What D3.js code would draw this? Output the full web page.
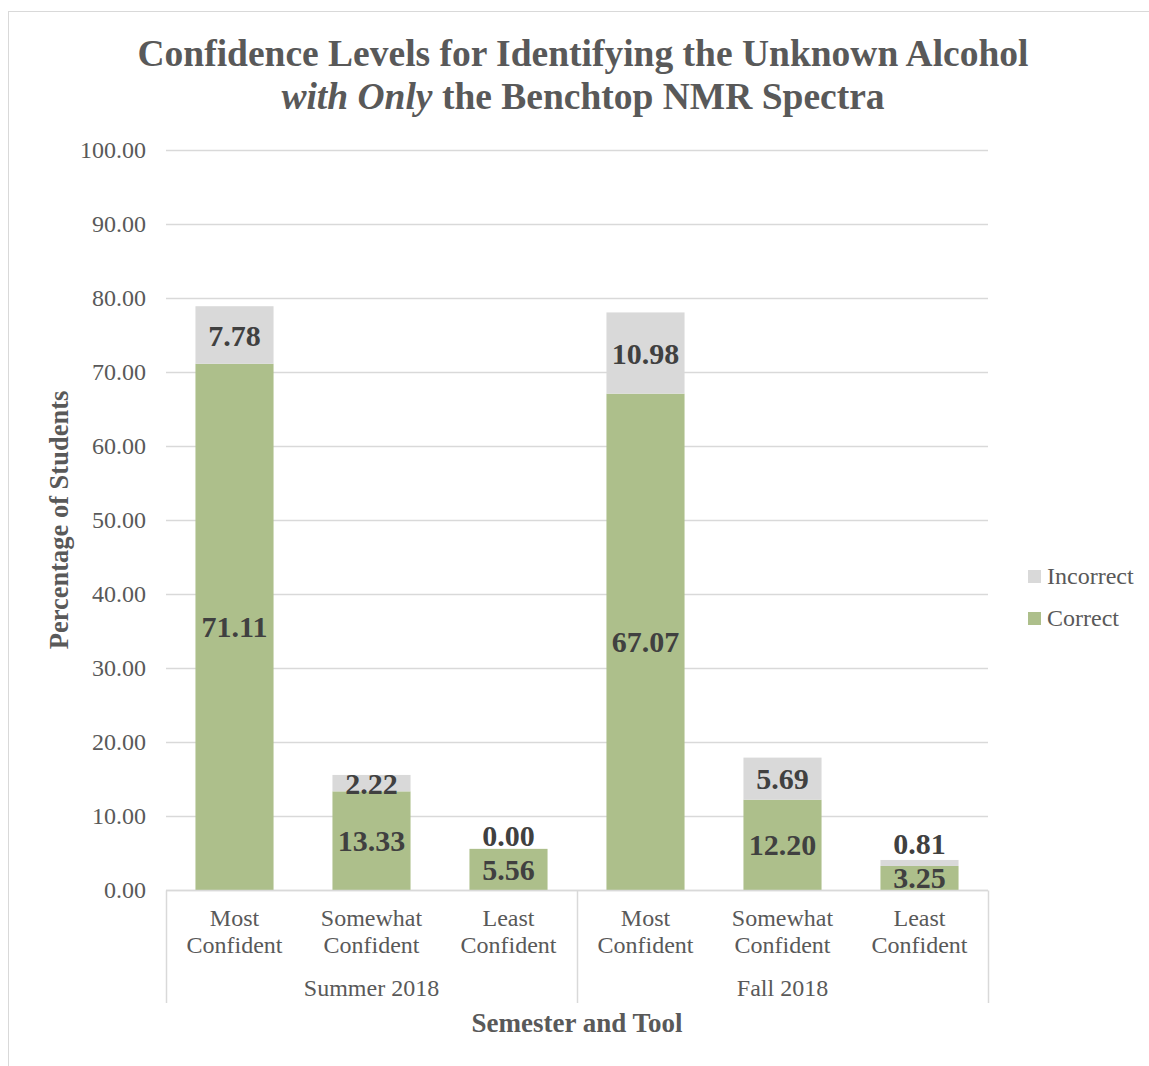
<!DOCTYPE html>
<html>
<head>
<meta charset="utf-8">
<script src="https://cdn.jsdelivr.net/npm/d3@7"></script>
<style>
  body { margin: 0; background: #fff; }
  svg { font-family: "Liberation Serif", "Times New Roman", serif; }
</style>
</head>
<body>
<div id="chart"></div>
<script>
var groups = ["Summer 2018", "Fall 2018"];
var levels = [["Most", "Confident"], ["Somewhat", "Confident"], ["Least", "Confident"]];
var correct   = [71.11, 13.33, 5.56, 67.07, 12.20, 3.25];
var incorrect = [7.78, 2.22, 0.00, 10.98, 5.69, 0.81];
var yTicks = [0, 10, 20, 30, 40, 50, 60, 70, 80, 90, 100];
var seriesNames = ["Incorrect", "Correct"];

var colors = { correct: "#adbf8b", incorrect: "#d9d9d9", grid: "#d9d9d9", text: "#595959", label: "#404040" };

var W = 1149, H = 1066;
var margin = { left: 166, right: 161, top: 150, bottom: 176 };

var svg = d3.select("#chart").append("svg")
  .attr("width", W)
  .attr("height", H);

// chart frame
svg.append("rect")
  .attr("x", 8.5).attr("y", 11.5)
  .attr("width", W + 10).attr("height", H + 10)
  .style("fill", "none")
  .style("stroke", colors.grid);

var cats = [];
groups.forEach(function(g, gi) {
  levels.forEach(function(l, li) {
    cats.push({ group: g, level: l, key: gi + "-" + li });
  });
});

var x = d3.scaleBand()
  .domain(cats.map(function(c) { return c.key; }))
  .range([margin.left, W - margin.right])
  .paddingInner(0.43)
  .paddingOuter(0.215);

var step = x.step();

var y = d3.scaleLinear()
  .domain([0, 100])
  .range([H - margin.bottom, margin.top]);

// gridlines
svg.append("g")
  .selectAll("line")
  .data(yTicks)
  .enter().append("line")
  .attr("x1", margin.left).attr("x2", W - margin.right)
  .attr("y1", function(d) { return Math.round(y(d)) + 0.5; })
  .attr("y2", function(d) { return Math.round(y(d)) + 0.5; })
  .style("stroke", colors.grid)
  .style("stroke-width", 1.5);

// y tick labels
svg.append("g")
  .selectAll("text")
  .data(yTicks)
  .enter().append("text")
  .attr("x", margin.left - 20)
  .attr("y", function(d) { return y(d); })
  .attr("dy", "0.35em")
  .style("text-anchor", "end")
  .style("font-size", "24px")
  .style("fill", colors.text)
  .text(function(d) { return d3.format(".2f")(d); });

// bars
var data = cats.map(function(c, i) {
  return { key: c.key, correct: correct[i], incorrect: incorrect[i] };
});

var bars = svg.append("g");

bars.selectAll("rect.correct")
  .data(data)
  .enter().append("rect")
  .attr("class", "correct")
  .attr("x", function(d) { return x(d.key); })
  .attr("width", x.bandwidth())
  .attr("y", function(d) { return y(d.correct); })
  .attr("height", function(d) { return y(0) - y(d.correct); })
  .style("fill", colors.correct);

bars.selectAll("rect.incorrect")
  .data(data)
  .enter().append("rect")
  .attr("class", "incorrect")
  .attr("x", function(d) { return x(d.key); })
  .attr("width", x.bandwidth())
  .attr("y", function(d) { return y(d.correct + d.incorrect); })
  .attr("height", function(d) { return y(d.correct) - y(d.correct + d.incorrect); })
  .style("fill", colors.incorrect);

// data labels (centered in segment, nudged up when they would collide)
function correctLabelY(d) { return y(d.correct / 2); }
function incorrectLabelY(d) {
  var c = y(d.correct + d.incorrect / 2);
  return Math.min(c, correctLabelY(d) - 34);
}

var labels = svg.append("g")
  .style("font-size", "30px")
  .style("font-weight", "bold")
  .style("fill", colors.label)
  .style("text-anchor", "middle");

labels.selectAll("text.correct")
  .data(data)
  .enter().append("text")
  .attr("x", function(d) { return x(d.key) + x.bandwidth() / 2; })
  .attr("y", correctLabelY)
  .attr("dy", "0.35em")
  .text(function(d) { return d3.format(".2f")(d.correct); });

labels.selectAll("text.incorrect")
  .data(data)
  .enter().append("text")
  .attr("x", function(d) { return x(d.key) + x.bandwidth() / 2; })
  .attr("y", incorrectLabelY)
  .attr("dy", "0.35em")
  .text(function(d) { return d3.format(".2f")(d.incorrect); });

// x axis line + group dividers
var axisY = Math.round(y(0)) + 0.5;
svg.append("line")
  .attr("x1", margin.left).attr("x2", W - margin.right)
  .attr("y1", axisY).attr("y2", axisY)
  .style("stroke", colors.grid)
  .style("stroke-width", 1.5);

var dividers = [0, 3, 6].map(function(i) {
  return margin.left + i * step;
});

svg.append("g")
  .selectAll("line")
  .data(dividers)
  .enter().append("line")
  .attr("x1", function(d) { return Math.round(d) + 0.5; })
  .attr("x2", function(d) { return Math.round(d) + 0.5; })
  .attr("y1", axisY)
  .attr("y2", H - 63)
  .style("stroke", colors.grid)
  .style("stroke-width", 1.5);

// category labels
var catLabels = svg.append("g")
  .style("font-size", "24px")
  .style("fill", colors.text)
  .style("text-anchor", "middle");

cats.forEach(function(c) {
  var t = catLabels.append("text")
    .attr("x", x(c.key) + x.bandwidth() / 2)
    .attr("y", 926);
  t.append("tspan").attr("x", x(c.key) + x.bandwidth() / 2).text(c.level[0]);
  t.append("tspan").attr("x", x(c.key) + x.bandwidth() / 2).attr("dy", 27).text(c.level[1]);
});

// group labels
svg.append("g")
  .selectAll("text")
  .data(groups)
  .enter().append("text")
  .attr("x", function(d, i) { return (dividers[i] + dividers[i + 1]) / 2; })
  .attr("y", 996)
  .style("font-size", "24px")
  .style("fill", colors.text)
  .style("text-anchor", "middle")
  .text(function(d) { return d; });

// axis titles
svg.append("text")
  .attr("x", (margin.left + W - margin.right) / 2)
  .attr("y", 1032)
  .style("font-size", "27px")
  .style("font-weight", "bold")
  .style("fill", colors.text)
  .style("text-anchor", "middle")
  .text("Semester and Tool");

svg.append("text")
  .attr("transform", "translate(68," + (H - margin.bottom + margin.top) / 2 + ") rotate(-90)")
  .style("font-size", "26.5px")
  .style("font-weight", "bold")
  .style("fill", colors.text)
  .style("text-anchor", "middle")
  .text("Percentage of Students");

// title
var title = svg.append("text")
  .attr("x", 583)
  .style("font-size", "37.5px")
  .style("font-weight", "bold")
  .style("fill", colors.text)
  .style("text-anchor", "middle");

title.append("tspan")
  .attr("x", 583).attr("y", 66)
  .text("Confidence Levels for Identifying the Unknown Alcohol");

var line2 = title.append("tspan").attr("x", 583).attr("y", 109);
line2.append("tspan").style("font-style", "italic").text("with Only");
line2.append("tspan").text(" the Benchtop NMR Spectra");

// legend
var legend = svg.append("g")
  .selectAll("g")
  .data(seriesNames)
  .enter().append("g")
  .attr("transform", function(d, i) { return "translate(1028," + (576 + i * 42) + ")"; });

legend.append("rect")
  .attr("x", 0).attr("y", -6)
  .attr("width", 13).attr("height", 13)
  .style("fill", function(d) { return d === "Correct" ? colors.correct : colors.incorrect; });

legend.append("text")
  .attr("x", 19)
  .attr("dy", "0.35em")
  .style("font-size", "24px")
  .style("fill", colors.text)
  .text(function(d) { return d; });
</script>
</body>
</html>
